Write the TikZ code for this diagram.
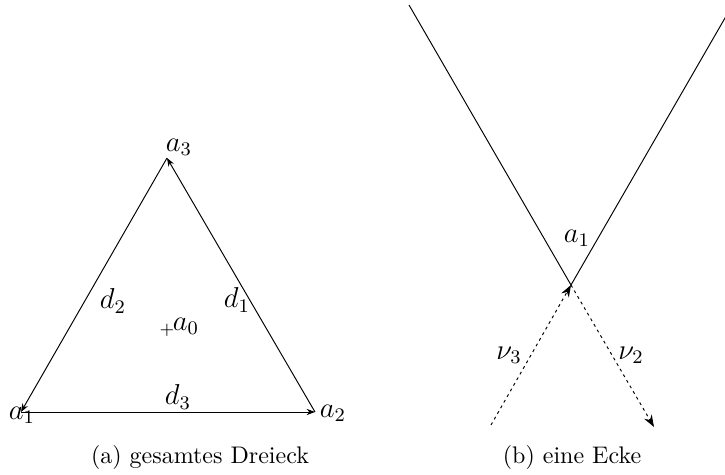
\documentclass[tikz,border=0pt]{standalone}
\usetikzlibrary{arrows.meta}
\begin{document}
\begin{tikzpicture}[x=0.4167pt,y=-0.4167pt,
  lbl/.style={inner sep=0pt,font=\large},
  edge/.style={-{Stealth[length=3.5pt,width=2.6pt]}},
  nu/.style={dash pattern=on 1.2pt off 1.5pt,-{Stealth[length=5pt,width=3.6pt]}}]
\useasboundingbox (0,0) rectangle (725,475);
\clip (0,0) rectangle (725,475);
% (a) whole triangle
\coordinate (a1) at (21,412);
\coordinate (a2) at (315,412);
\coordinate (a3) at (167,158);
\draw[edge] (a1) -- (a2);
\draw[edge] (a2) -- (a3);
\draw[edge] (a3) -- (a1);
\node[lbl] (la3) at (179,147) {$a_3$};
\node[lbl] (la1) at (22,415) {$a_1$};
\node[lbl] (la2) at (333,413) {$a_2$};
\node[lbl] (ld2) at (113,301) {$d_2$};
\node[lbl] (ld1) at (237,300) {$d_1$};
\node[lbl] (ld3) at (178,397) {$d_3$};
\node[lbl,font=\normalsize] (plus) at (167,330) {\scriptsize $+$};
\node[lbl] (la0) at (186,326) {$a_0$};
\node[lbl,font=\normalsize] (capa) at (200,458) {(a)\ gesamtes Dreieck};
% (b) one corner
\coordinate (c) at (571,285);
\coordinate (tl) at (409,5);
\coordinate (tr) at (740,-8);
\coordinate (n3s) at (491,425);
\coordinate (n2e) at (654,427);
\draw (tl) -- (c) -- (tr);
\draw[nu] (n3s) -- (c);
\draw[nu] (c) -- (n2e);
\node[lbl] (lb1) at (577,238) {$a_1$};
\node[lbl] (lnu3) at (509,355) {$\nu_3$};
\node[lbl] (lnu2) at (631,355) {$\nu_2$};
\node[lbl,font=\normalsize] (capb) at (572,458) {(b)\ eine Ecke};
\end{tikzpicture}
\end{document}
